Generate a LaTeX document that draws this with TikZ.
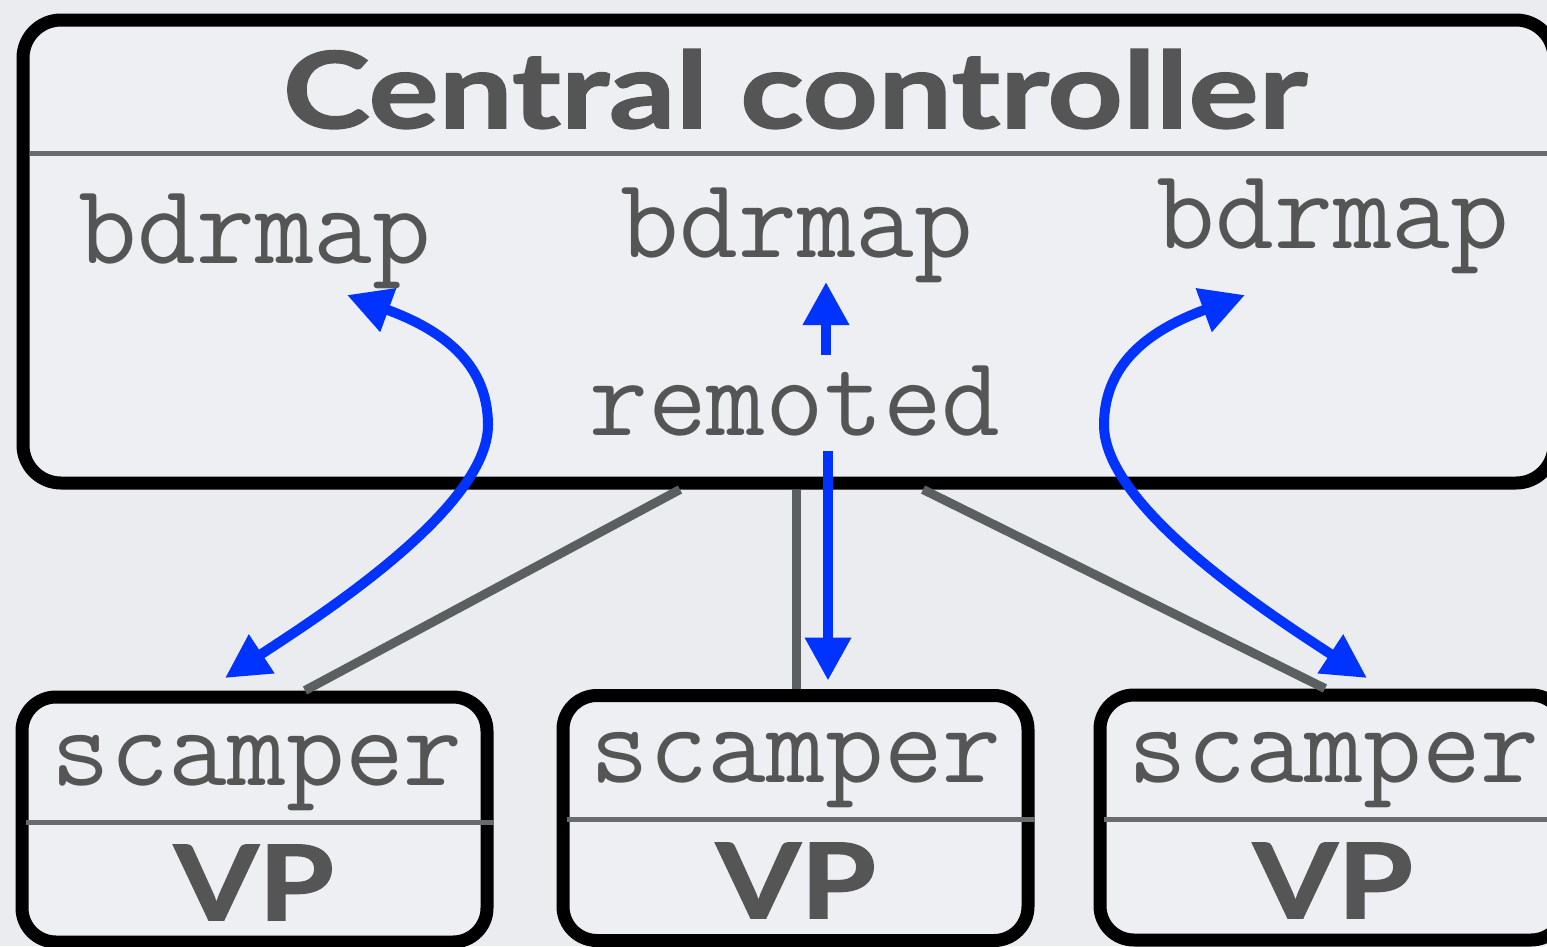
\documentclass[tikz,border=0pt]{standalone}
\usepackage{fontspec}
\usepackage{tikz}
\usetikzlibrary{arrows.meta}
\usetikzlibrary{calc}

\newfontfamily\headfont[FakeStretch=1.24,FakeBold=1.5]{Lato}
\newfontfamily\vpfont[FakeStretch=1.17,FakeBold=1.5]{Lato}

\definecolor{bgcol}{HTML}{EAECEF}
\definecolor{boxfill}{HTML}{EEEFF3}
\definecolor{txtgray}{HTML}{555555}
\definecolor{linkgray}{HTML}{5B5F5F}
\definecolor{rulegray}{HTML}{686C6C}
\definecolor{msgblue}{HTML}{0033FF}

\tikzset{
  ctrlbox/.style={draw=black, line width=13pt, fill=boxfill, rounded corners=38pt,
    minimum width=1531pt, minimum height=463pt, inner sep=0pt},
  vpbox/.style={draw=black, line width=13pt, fill=boxfill, rounded corners=34pt,
    minimum width=465pt, minimum height=245pt, inner sep=0pt},
  prog/.style={anchor=base, inner sep=0pt, text=txtgray,
    font=\ttfamily\fontsize{114}{114}\selectfont},
  head/.style={anchor=base, inner sep=0pt, text=txtgray,
    font=\headfont\bfseries\fontsize{106}{106}\selectfont},
  vplabel/.style={anchor=base, inner sep=0pt, text=txtgray,
    font=\vpfont\bfseries\fontsize{104}{104}\selectfont},
  rule/.style={rulegray, line width=5pt},
  link/.style={linkgray, line width=9pt},
  msgone/.style={msgblue, line width=10pt, -{Triangle[length=43pt,width=44pt]}},
  msgtwo/.style={msgblue, line width=10pt,
    {Triangle[length=44pt,width=44pt]}-{Triangle[length=44pt,width=44pt]}}
}

\begin{document}
\begin{tikzpicture}[x=1pt,y=-1pt]
\useasboundingbox (0,0) rectangle (1547,946);
\clip (0,0) rectangle (1547,946);
\fill[bgcol] (0,0) rectangle (1547,946);

% boxes
\node[ctrlbox] (ctrl) at (788.5,251.5) {};
\node[vpbox] (vp1) at (254.5,819.5) {};
\node[vpbox] (vp2) at (795.5,818) {};
\node[vpbox] (vp3) at (1332.5,817.5) {};

\draw[rule] ($(ctrl.west)+(13,-98.5)$) -- ($(ctrl.east)+(0,-98.5)$);
\draw[rule] ($(vp1.west)+(10,2.5)$) -- ($(vp1.east)+(0,2.5)$);
\draw[rule] ($(vp2.west)+(10,1)$) -- ($(vp2.east)+(0,1)$);
\draw[rule] ($(vp3.west)+(10,1.5)$) -- ($(vp3.east)+(0,1.5)$);

% labels
\node[head] (title) at (795,128) {Central controller};
\node[prog] (bdrL) at (255,263) {bdrmap};
\node[prog] (bdrM) at (797,257) {bdrmap};
\node[prog] (bdrR) at (1333,248) {bdrmap};
\node[prog] (remoted) at (795,435) {remoted};

\node[prog] (sc1) at (257,785) {scamper};
\node[prog] (sc2) at (796,782) {scamper};
\node[prog] (sc3) at (1334,782) {scamper};
\node[vplabel] (vpt1) at (254,920) {VP};
\node[vplabel] (vpt2) at (796,918) {VP};
\node[vplabel] (vpt3) at (1333,918) {VP};

% links controller -> VPs
\draw[link] ($(ctrl.south)+(-108.5,0)$) -- ($(vp1.north)+(50.5,0)$);
\draw[link] ($(ctrl.south)+(7.5,0)$) -- ($(vp2.north)+(0.5,0)$);
\draw[link] ($(ctrl.south)+(134.5,0)$) -- ($(vp3.north)+(-7.5,0)$);

% messages
\draw[msgone] ($(remoted.base)+(31,-80)$) -- ($(bdrM.base)+(29,25)$);
\draw[msgone] ($(remoted.base)+(33,16)$) -- ($(vp2.north)+(32.5,-8.5)$);
\draw[msgtwo] ($(bdrL.base)+(92,32)$) .. controls +(90,33) and +(0,-65) .. (488,425)
  .. controls +(0,85) and +(85,-56) .. ($(vp1.north)+(-29.5,-12.5)$);
\draw[msgtwo] ($(bdrR.base)+(-88,47)$) .. controls +(-90,33) and +(0,-65) .. (1104,425)
  .. controls +(0,85) and +(-85,-56) .. ($(vp3.north)+(34.5,-10.5)$);
\end{tikzpicture}
\end{document}
